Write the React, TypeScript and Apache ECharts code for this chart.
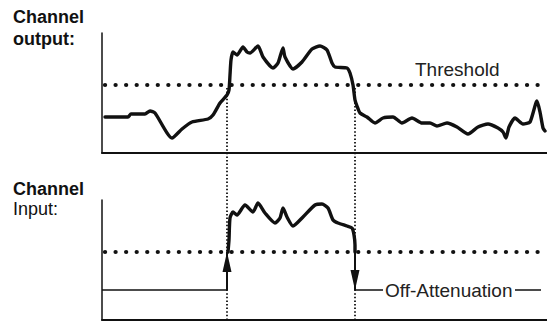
import React, { useEffect, useRef } from "react";
import * as echarts from "echarts";

// time axis (arbitrary units) spans 0..445, level axis 0..120
const outputSignal: [number, number][] = [
  [3, 36], [26, 36], [29, 39], [43, 39], [48, 42], [53, 40], [70, 15], [80, 24], [90, 31],
  [106, 34], [111, 38], [118, 50], [125, 58], [127, 63], [128, 78], [129, 93], [131, 101],
  [135, 98], [141, 106], [145, 101], [148, 100], [156, 107], [161, 96], [171, 85], [176, 90],
  [181, 105], [183, 96], [191, 84], [200, 91], [210, 104], [218, 107], [225, 103], [230, 90],
  [233, 86], [245, 85], [248, 80], [251, 68], [253, 53], [255, 47], [258, 40], [265, 36],
  [273, 30], [281, 35], [291, 36], [300, 30], [310, 35], [320, 30], [328, 30], [335, 27],
  [345, 30], [355, 26], [366, 19], [376, 26], [386, 29], [396, 25], [401, 21], [404, 15],
  [407, 26], [413, 35], [421, 29], [428, 31], [435, 52], [438, 41], [441, 25], [443, 22],
];

const inputSignal: [number, number][] = [
  [126, 68], [127, 80], [128, 102], [131, 108], [135, 105], [143, 115], [151, 108],
  [156, 117], [163, 107], [173, 97], [178, 102], [181, 112], [185, 103], [191, 94],
  [201, 103], [213, 115], [220, 116], [226, 112], [231, 100], [236, 97], [245, 94],
  [250, 92], [252, 85], [253, 75], [253, 68],
];

const thresholdLevel = 68;
const offLevel = 30;
const onTime = 125;
const offTime = 253;
const timeMax = 445;
const levelMax = 120;
const thresholdSpan = [3, 442];
const offLabelGap = [281, 413, 439];

const topLabels = ["Channel", "output:"];
const bottomLabels = ["Channel", "Input:"];
const thresholdLabel = "Threshold";
const offLabel = "Off-Attenuation";

const FONT = '"Liberation Sans", Arial, Helvetica, sans-serif';
const INK = "#111";

export default function App() {
  const ref = useRef<HTMLDivElement>(null);
  useEffect(() => {
    if (!ref.current) return;
    const chart = echarts.init(ref.current, undefined, { renderer: "svg" });
    const axisX = (i: number) => ({
      type: "value",
      gridIndex: i,
      min: 0,
      max: timeMax,
      show: i < 2,
      axisLine: { show: true, onZero: false, lineStyle: { color: INK, width: 2 } },
      axisTick: { show: false },
      axisLabel: { show: false },
      splitLine: { show: false },
    });
    const axisY = (i: number) => ({
      type: "value",
      gridIndex: i,
      min: 0,
      max: i < 2 ? levelMax : 288,
      show: i < 2,
      axisLine: { show: true, onZero: false, lineStyle: { color: INK, width: 1.5 } },
      axisTick: { show: false },
      axisLabel: { show: false },
      splitLine: { show: false },
    });
    const base = { type: "line", symbol: "none", silent: true, animation: false };
    const threshold = (i: number) => ({
      ...base,
      xAxisIndex: i,
      yAxisIndex: i,
      data: [[thresholdSpan[0], thresholdLevel], [thresholdSpan[1], thresholdLevel]],
      lineStyle: { color: INK, width: 4.2, type: [0.1, 10.45], cap: "round" },
      z: 3,
    });
    const eventLine = (t: number) => ({
      ...base,
      xAxisIndex: 2,
      yAxisIndex: 2,
      data: [[t, 233], [t, 0]],
      lineStyle: { color: INK, width: 1.8, type: [1.5, 2.1] },
      z: 2,
    });
    const thin = { color: INK, width: 1.6 };
    const arrowLine = {
      symbol: ["none", "triangle"],
      symbolSize: [9, 20],
      symbolOffset: [[0, 0], [0, 10]],
      label: { show: false },
      lineStyle: { color: INK, width: 2, type: "solid" },
      silent: true,
      animation: false,
    };
    const option = {
      animation: false,
      grid: [
        { left: 102, top: 33, width: timeMax, height: levelMax },
        { left: 102, top: 200, width: timeMax, height: levelMax },
        { left: 102, top: 33, width: timeMax, height: 288 },
      ],
      xAxis: [0, 1, 2].map(axisX),
      yAxis: [0, 1, 2].map(axisY),
      series: [
        eventLine(onTime),
        eventLine(offTime),
        threshold(0),
        threshold(1),
        {
          ...base,
          xAxisIndex: 1,
          yAxisIndex: 1,
          data: [[0, offLevel], [onTime, offLevel]],
          lineStyle: thin,
          markLine: {
            ...arrowLine,
            data: [
              [{ coord: [onTime, offLevel] }, { coord: [onTime, thresholdLevel] }],
              [{ coord: [offTime, thresholdLevel] }, { coord: [offTime, offLevel] }],
            ],
          },
          z: 4,
        },
        {
          ...base,
          xAxisIndex: 1,
          yAxisIndex: 1,
          data: [[offTime, offLevel], [offLabelGap[0], offLevel], "-", [offLabelGap[1], offLevel], [offLabelGap[2], offLevel]],
          connectNulls: false,
          lineStyle: thin,
          z: 4,
        },
        {
          ...base,
          xAxisIndex: 0,
          yAxisIndex: 0,
          data: outputSignal,
          smooth: 0.2,
          lineStyle: { color: INK, width: 3.4, cap: "round", join: "round" },
          z: 5,
        },
        {
          ...base,
          xAxisIndex: 1,
          yAxisIndex: 1,
          data: inputSignal,
          smooth: 0.2,
          lineStyle: { color: INK, width: 3.4, cap: "round", join: "round" },
          z: 5,
        },
      ],
      graphic: [
        { type: "text", x: 13, y: 16.5, style: { text: topLabels[0], font: `bold 18px ${FONT}`, fill: INK, verticalAlign: "middle" } },
        { type: "text", x: 13, y: 38.8, style: { text: topLabels[1], font: `bold 18px ${FONT}`, fill: INK, verticalAlign: "middle" } },
        { type: "text", x: 13, y: 188.8, style: { text: bottomLabels[0], font: `bold 18px ${FONT}`, fill: INK, verticalAlign: "middle" } },
        { type: "text", x: 13, y: 208.8, style: { text: bottomLabels[1], font: `18px ${FONT}`, fill: INK, verticalAlign: "middle" } },
        { type: "text", x: 415, y: 69.8, style: { text: thresholdLabel, font: `19px ${FONT}`, fill: "#222", verticalAlign: "middle" } },
        { type: "text", x: 385, y: 290.5, style: { text: offLabel, font: `19px ${FONT}`, fill: "#222", verticalAlign: "middle" } },
      ],
    };
    chart.setOption(option as any);
    return () => chart.dispose();
  }, []);
  return (
    <div
      ref={ref}
      style={{ position: "fixed", left: 0, top: 0, width: 547, height: 321, background: "#fff" }}
    />
  );
}
